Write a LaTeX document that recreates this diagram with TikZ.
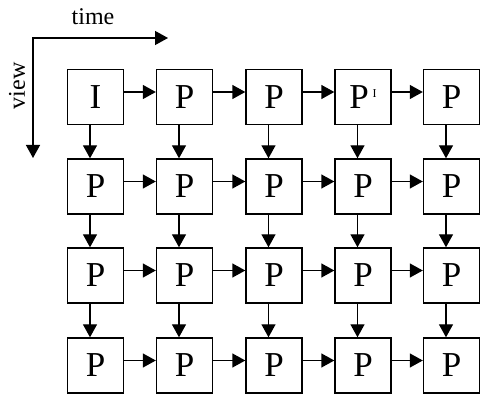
\documentclass[tikz,border=0pt]{standalone}
\usepackage{fontspec}
\setmainfont{Liberation Serif}
\usetikzlibrary{arrows.meta}
\newcommand{\supI}{P\raisebox{11pt}{\kern4pt\fontsize{12}{12}\selectfont I}}
\begin{document}
\begin{tikzpicture}[x=1pt,y=-1pt,
  frame/.style={draw,line width=1.4pt,minimum width=56pt,minimum height=55pt,inner sep=0pt,
    font=\fontsize{35}{37}\selectfont},
  arr/.style={line width=1.4pt,-{Triangle[length=13pt,width=14pt]}},
  axis/.style={line width=1.4pt,{Triangle[length=13pt,width=14pt]}-{Triangle[length=13pt,width=14pt]}},
  lbl/.style={font=\fontsize{24}{26}\selectfont,inner sep=0pt}]
\useasboundingbox (0,0) rectangle (480,395);
% axes
\coordinate (origin) at (33,38);
\coordinate (tend) at (168,38);
\coordinate (vend) at (33,158);
\draw[axis] (tend) -- (origin) -- (vend);
\node[lbl] (tlabel) at (93,17) {time};
\node[lbl,rotate=90] (vlabel) at (17,86) {view};
% grid of frames
\def\colx{{95.5,184.5,274,363,451.5}}
\def\rowy{{97,186.5,275.5,365.5}}
\foreach \r in {1,...,4}{
  \foreach \c in {1,...,5}{
    \pgfmathsetmacro{\xx}{\colx[\c-1]}
    \pgfmathsetmacro{\yy}{\rowy[\r-1]}
    \def\txt{P}
    \ifnum\r=1 \ifnum\c=1 \def\txt{I}\fi \ifnum\c=4 \def\txt{\supI}\fi \fi
    \node[frame] (b\r\c) at (\xx,\yy) {\txt};
  }
}
% horizontal links
\foreach \r in {1,...,4}{
  \foreach \c/\n in {1/2,2/3,3/4,4/5}{
    \draw[arr] ([yshift=5pt]b\r\c.east) -- ([yshift=5pt]b\r\n.west);
  }
}
% vertical links
\foreach \c in {1,...,5}{
  \foreach \r/\n in {1/2,2/3,3/4}{
    \draw[arr] ([xshift=-5.5pt]b\r\c.south) -- ([xshift=-5.5pt]b\n\c.north);
  }
}
\end{tikzpicture}
\end{document}
